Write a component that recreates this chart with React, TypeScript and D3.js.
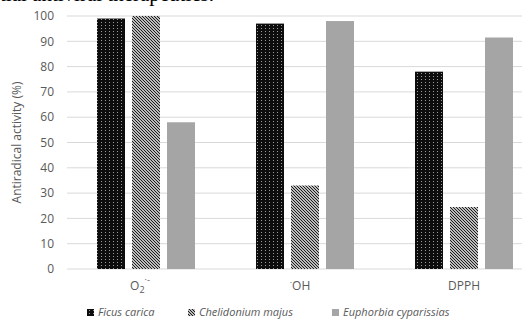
import React from "react";
import * as d3 from "d3";

const categories = ["O2", "OH", "DPPH"];
const seriesNames = ["Ficus carica", "Chelidonium majus", "Euphorbia cyparissias"];
const ficusValues = [99, 97, 78];
const chelidoniumValues = [100, 33, 24.5];
const euphorbiaValues = [58, 98, 91.5];
const yTicks = [0, 10, 20, 30, 40, 50, 60, 70, 80, 90, 100];

const W = 522;
const H = 326;
const fills = ["url(#pFicus)", "url(#pChel)", "#a5a5a5"];
const font = "'Open Sans', 'Noto Sans', sans-serif";

export default function App() {
  const values = [ficusValues, chelidoniumValues, euphorbiaValues];
  const x0 = d3.scaleBand<string>().domain(categories).range([66.5, 543.5]).padding(0);
  const x1 = d3
    .scaleBand<string>()
    .domain(seriesNames)
    .range([30.5, 128.5])
    .paddingInner(0.2)
    .paddingOuter(0);
  const y = d3.scaleLinear().domain([0, 100]).range([269, 16]);

  const labelX = (c: string) => (x0(c) ?? 0) + x0.bandwidth() / 2;

  const legendItems = [{ x: 87 }, { x: 188 }, { x: 332 }];

  return (
    <svg
      width={W}
      height={H}
      style={{ position: "absolute", left: 0, top: 0, display: "block", background: "#fff" }}
    >
      <defs>
        <pattern id="pFicus" width={4} height={3} patternUnits="userSpaceOnUse">
          <rect width={4} height={3} fill="#0d0d0d" />
          <rect x={1} y={1} width={1} height={1} fill="#9a9a9a" />
        </pattern>
        <pattern id="pChel" width={3} height={3} patternUnits="userSpaceOnUse">
          <rect width={3} height={3} fill="#fff" />
          <path d="M0,0 L3,3 M-1,2 L1,4 M2,-1 L4,1" stroke="#111" strokeWidth={1.1} />
        </pattern>
      </defs>

      <text x={0} y={1} fontFamily="'Liberation Serif', serif" fontSize={21} fill="#000">
        tial antiviral therapeutics.
      </text>

      {yTicks.map((t) => (
        <g key={t}>
          <line x1={67} x2={W} y1={y(t)} y2={y(t)} stroke="#d9d9d9" strokeWidth={1} />
          <text
            x={54}
            y={y(t)}
            dy="0.35em"
            textAnchor="end"
            fontFamily={font}
            fontSize={12}
            fill="#595959"
          >
            {t}
          </text>
        </g>
      ))}

      <text
        transform={`translate(21,${(y(0) + y(100)) / 2}) rotate(-90)`}
        textAnchor="middle"
        fontFamily={font}
        fontSize={12}
        fill="#595959"
      >
        Antiradical activity (%)
      </text>

      {categories.map((c, ci) => (
        <g key={c}>
          {seriesNames.map((s, si) => {
            const v = values[si][ci];
            const bx = (x0(c) ?? 0) + (x1(s) ?? 0);
            return (
              <rect
                key={s}
                x={bx}
                y={y(v)}
                width={x1.bandwidth()}
                height={y(0) - y(v)}
                fill={fills[si]}
              />
            );
          })}
        </g>
      ))}

      {/* x labels */}
      <text x={labelX("O2") - 6} y={290} textAnchor="middle" fontFamily={font} fontSize={12} fill="#595959">
        O
        <tspan fontSize={9} dy={3}>2</tspan>
        <tspan fontSize={9} dy={-10}>·-</tspan>
      </text>
      <text x={labelX("OH") - 5} y={290} textAnchor="middle" fontFamily={font} fontSize={12} fill="#595959">
        <tspan fontSize={9} dy={-4}>·</tspan>
        <tspan dy={4}>OH</tspan>
      </text>
      <text x={labelX("DPPH")} y={290} textAnchor="middle" fontFamily={font} fontSize={12} fill="#595959">
        DPPH
      </text>

      {/* legend */}
      {seriesNames.map((s, i) => (
        <g key={s}>
          <rect x={legendItems[i].x} y={309} width={7} height={7} fill={fills[i]} />
          <text
            x={legendItems[i].x + 11}
            y={316}
            fontFamily={font}
            fontSize={11}
            fontStyle="italic"
            fill="#595959"
          >
            {s}
          </text>
        </g>
      ))}
    </svg>
  );
}
